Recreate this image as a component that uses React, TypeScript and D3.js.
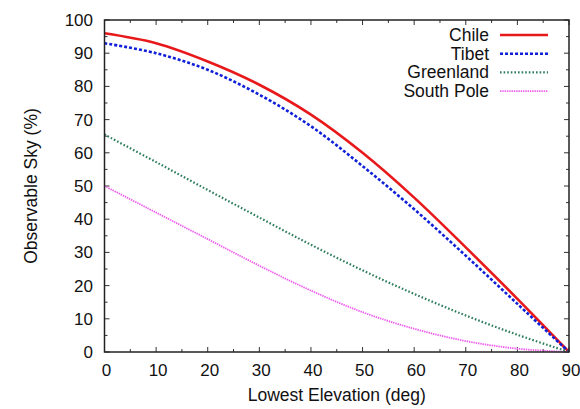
import React from "react";
import * as d3 from "d3";

// Lowest usable elevation angle (deg) vs. fraction of the sky observable (%)
const elevations = [0, 10, 20, 30, 40, 50, 60, 70, 80, 90];
const chile = [96, 93, 87.5, 80.5, 71.5, 60, 46.5, 31.5, 16, 0];
const tibet = [93, 90, 85, 77.5, 68, 56, 43, 29, 14.5, 0];
const greenland = [65.5, 57.2, 48.8, 40.5, 32.3, 24.6, 17.5, 11, 5.2, 0];
const southPole = [50, 42, 34, 26, 18.5, 12, 7, 3.3, 1, 0];

const seriesNames = ["Chile", "Tibet", "Greenland", "South Pole"];
const seriesValues = [chile, tibet, greenland, southPole];

const xTicks = [0, 10, 20, 30, 40, 50, 60, 70, 80, 90];
const yTicks = [0, 10, 20, 30, 40, 50, 60, 70, 80, 90, 100];

const styles = [
  { color: "#e8191b", width: 2.6, dash: "" },
  { color: "#1020d8", width: 2.6, dash: "3,2" },
  { color: "#2f7d5c", width: 2.2, dash: "1.6,2" },
  { color: "#ee5cee", width: 1.8, dash: "1.4,0.9" },
];

const W = 580;
const H = 409;
const left = 104.5;
const right = 569;
const top = 20;
const bottom = 352;
const font = "'Liberation Sans', Arial, Helvetica, sans-serif";

export default function App() {
  const x = d3.scaleLinear().domain([0, 90]).range([left, right]);
  const y = d3.scaleLinear().domain([0, 100]).range([bottom, top]);

  const line = d3
    .line<[number, number]>()
    .x((d) => x(d[0]))
    .y((d) => y(d[1]))
    .curve(d3.curveCatmullRom.alpha(0.5));

  const xMinor = d3.range(5, 90, 10);
  const yMinor = d3.range(5, 100, 10);
  const major = 5;
  const minor = 3;
  const tickColor = "#333";

  return (
    <svg
      width={W}
      height={H}
      style={{ position: "absolute", left: 0, top: 0, background: "#fff" }}
      fontFamily={font}
    >
      <rect x={0} y={0} width={W} height={H} fill="#fff" />
      <defs>
        <clipPath id="plotArea">
          <rect x={left} y={top - 2} width={right - left + 2} height={bottom - top + 4} />
        </clipPath>
      </defs>

      {/* ticks on all four sides, pointing inward */}
      <g stroke={tickColor} strokeWidth={1}>
        {xTicks.map((t) => (
          <g key={"xt" + t}>
            <line x1={x(t)} x2={x(t)} y1={bottom} y2={bottom - major} />
            <line x1={x(t)} x2={x(t)} y1={top} y2={top + major} />
          </g>
        ))}
        {xMinor.map((t) => (
          <g key={"xm" + t}>
            <line x1={x(t)} x2={x(t)} y1={bottom} y2={bottom - minor} />
            <line x1={x(t)} x2={x(t)} y1={top} y2={top + minor} />
          </g>
        ))}
        {yTicks.map((t) => (
          <g key={"yt" + t}>
            <line x1={left} x2={left + major} y1={y(t)} y2={y(t)} />
            <line x1={right} x2={right - major} y1={y(t)} y2={y(t)} />
          </g>
        ))}
        {yMinor.map((t) => (
          <g key={"ym" + t}>
            <line x1={left} x2={left + minor} y1={y(t)} y2={y(t)} />
            <line x1={right} x2={right - minor} y1={y(t)} y2={y(t)} />
          </g>
        ))}
      </g>

      {/* curves */}
      <g clipPath="url(#plotArea)" fill="none">
        {seriesValues.map((vals, i) => (
          <path
            key={seriesNames[i]}
            d={line(elevations.map((e, j) => [e, vals[j]] as [number, number])) || ""}
            stroke={styles[i].color}
            strokeWidth={styles[i].width}
            strokeDasharray={styles[i].dash || undefined}
          />
        ))}
      </g>

      {/* frame */}
      <rect
        x={left}
        y={top}
        width={right - left}
        height={bottom - top}
        fill="none"
        stroke="#222"
        strokeWidth={1.5}
      />

      {/* tick labels */}
      <g fontSize={17} fill="#111">
        {xTicks.map((t) => (
          <text key={"xl" + t} x={x(t) + 2} y={376} textAnchor="middle">
            {t}
          </text>
        ))}
        {yTicks.map((t) => (
          <text key={"yl" + t} x={93} y={y(t) + 6} textAnchor="end">
            {t}
          </text>
        ))}
      </g>

      {/* axis titles */}
      <text x={(left + right) / 2} y={401} textAnchor="middle" fontSize={17.5} fill="#111">
        Lowest Elevation (deg)
      </text>
      <text
        transform={`translate(37,${(top + bottom) / 2}) rotate(-90)`}
        textAnchor="middle"
        fontSize={17.5}
        fill="#111"
      >
        Observable Sky (%)
      </text>

      {/* legend */}
      <g fontSize={17.5} fill="#111">
        {seriesNames.map((name, i) => {
          const cy = 35 + i * 18.7;
          return (
            <g key={"lg" + name}>
              <text x={489} y={cy + 6} textAnchor="end">
                {name}
              </text>
              <line
                x1={500}
                x2={548}
                y1={cy}
                y2={cy}
                stroke={styles[i].color}
                strokeWidth={styles[i].width}
                strokeDasharray={styles[i].dash || undefined}
              />
            </g>
          );
        })}
      </g>
    </svg>
  );
}
